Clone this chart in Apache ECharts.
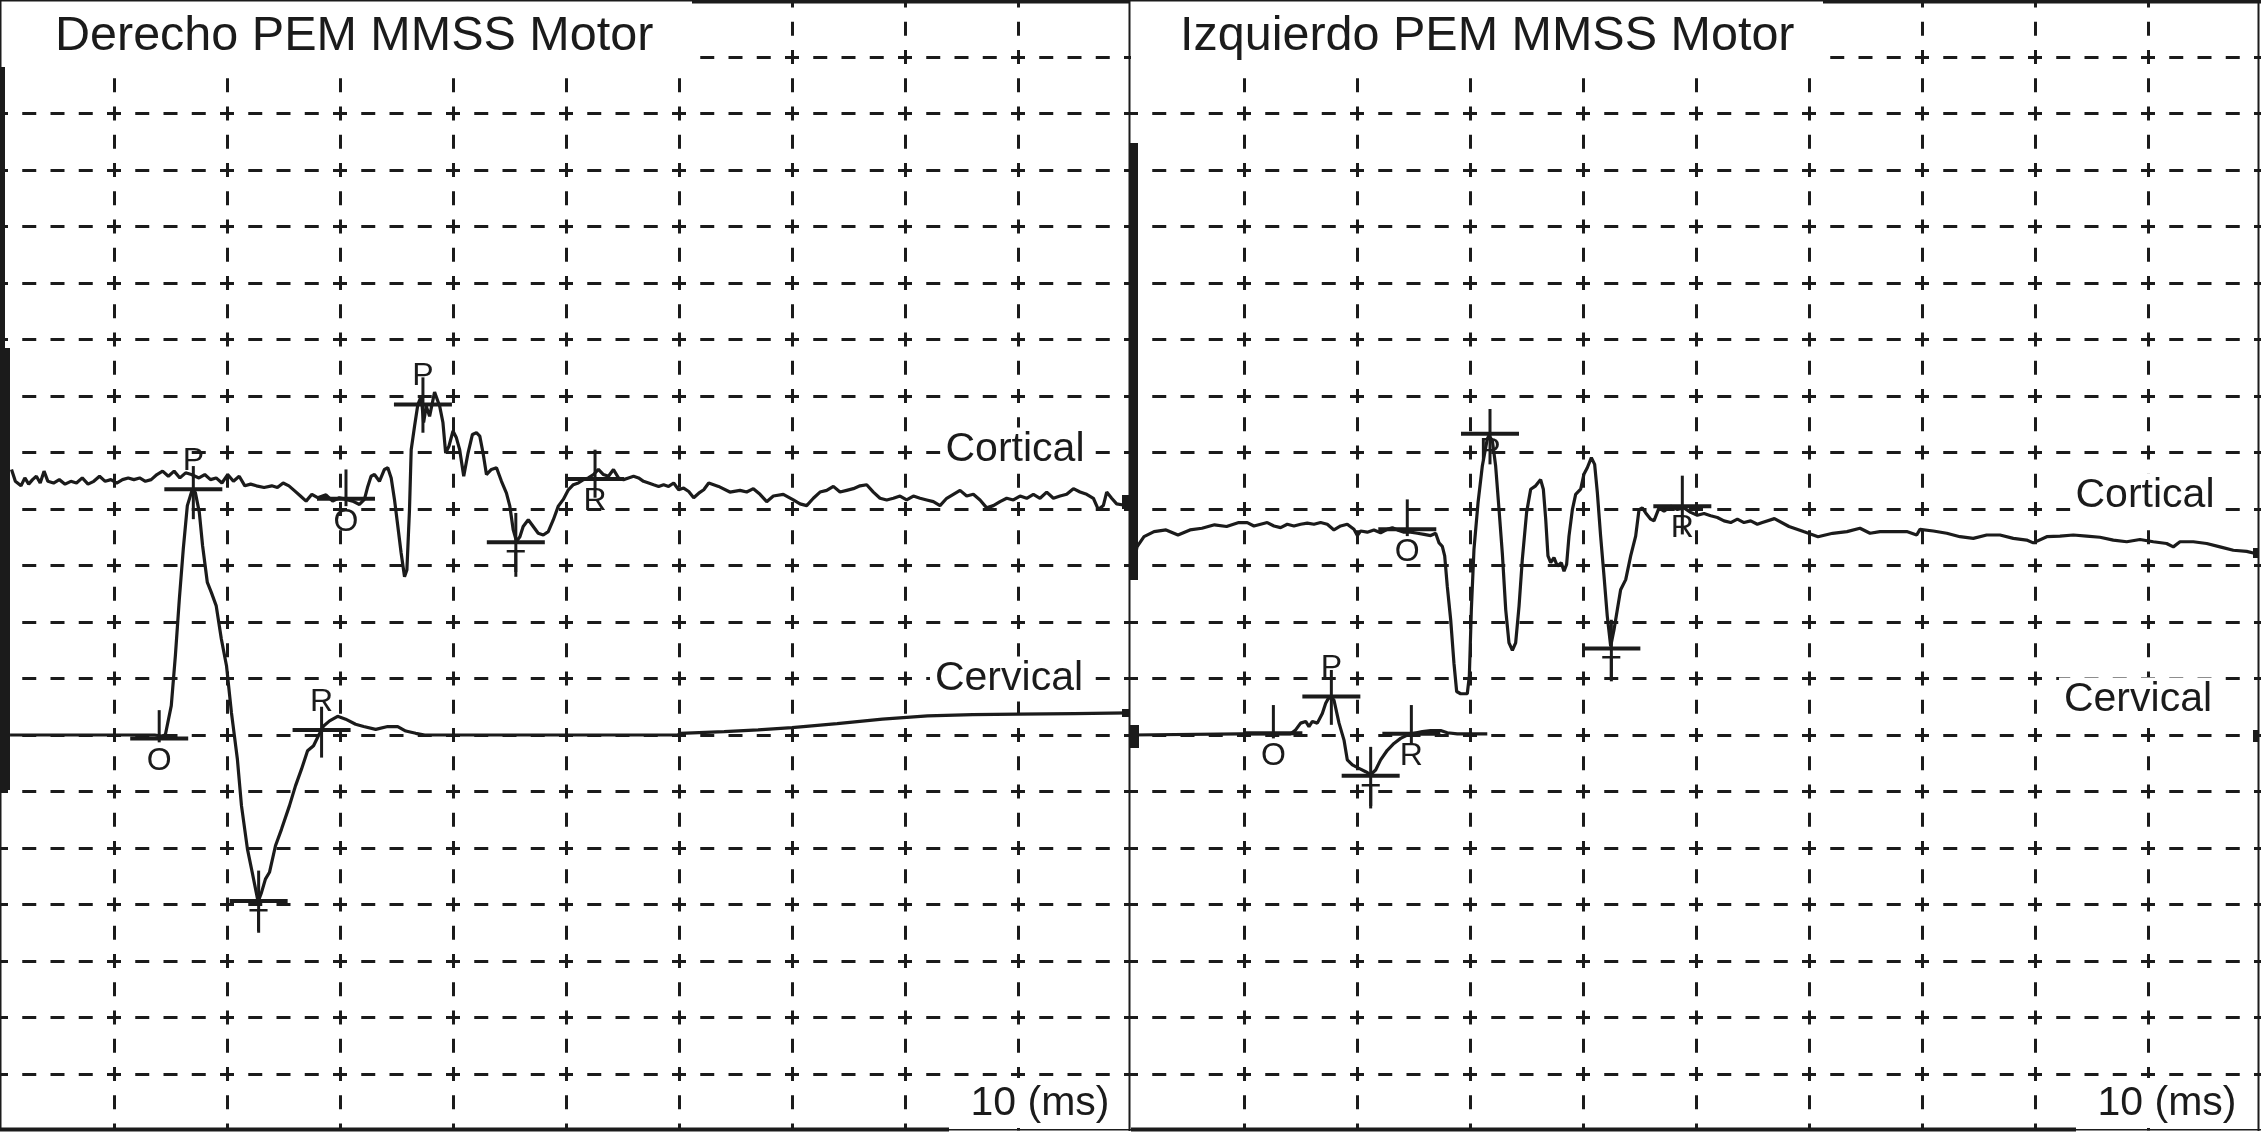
<!DOCTYPE html>
<html><head><meta charset="utf-8">
<script src="https://cdn.jsdelivr.net/npm/echarts@6/dist/echarts.min.js"></script>
<style>html,body{margin:0;padding:0;background:#fff;}#c{width:2261px;height:1136px;}</style>
</head><body><div id="c"></div>
<script>
// ---------------- DATA ----------------
const titleLeft = 'Derecho PEM MMSS Motor';
const titleRight = 'Izquierdo PEM MMSS Motor';
const channelNames = ['Cortical', 'Cervical'];
const scaleLabel = '10 (ms)';
const timeRange = [0, 100, 10];      // ms: min, max, step per division
const ampRange = [0, 20, 1];         // divisions: min, max, step

// Left (Derecho) cortical trace [ms, div]
const leftCortical = [
[0.93,11.70],[1.27,11.49],[1.77,11.41],[2.11,11.55],[2.45,11.44],[2.79,11.52],[3.13,11.58],[3.47,11.46],[3.81,11.67],[4.15,11.49],[4.65,11.46],[5.16,11.52],[5.67,11.44],[6.18,11.49],[6.68,11.46],[7.19,11.55],[7.70,11.44],[8.21,11.49],[8.72,11.58],[9.22,11.49],[9.73,11.52],[10.24,11.46],[10.75,11.52],[11.26,11.55],[11.76,11.52],[12.27,11.55],[12.78,11.49],[13.29,11.52],[13.80,11.61],[14.30,11.67],[14.81,11.58],[15.32,11.67],[15.83,11.55],[16.34,11.64],[16.84,11.61],[17.18,11.58],[17.52,11.55],[18.03,11.61],[18.54,11.52],[19.04,11.55],[19.55,11.46],[20.06,11.61],[20.57,11.49],[21.08,11.58],[21.58,11.41],[22.09,11.44],[22.60,11.41],[23.28,11.38],[23.96,11.41],[24.46,11.38],[24.97,11.46],[25.48,11.41],[25.99,11.32],[26.50,11.23],[27.00,11.14],[27.51,11.26],[28.02,11.20],
[28.17,11.22],[28.76,11.25],[29.35,11.14],[29.94,11.20],[30.53,11.17],[31.12,11.14],[31.72,11.08],[32.16,11.17],[32.46,11.40],[32.75,11.58],[33.05,11.61],[33.49,11.49],[33.93,11.70],[34.23,11.73],[34.53,11.55],[34.82,11.17],[35.12,10.69],[35.41,10.22],[35.71,9.80],[35.92,9.92],[36.15,10.99],[36.30,12.05],[36.60,12.47],[36.89,12.85],[37.19,13.00],[37.40,12.53],[37.63,12.82],[37.93,12.64],[38.37,13.07],[38.82,12.82],[39.11,12.53],[39.35,11.99],[39.64,12.11],[40.00,12.38],[40.30,12.26],[40.59,12.05],[40.95,11.58],[41.33,11.99],[41.72,12.32],[42.07,12.35],[42.37,12.29],[42.66,11.99],[42.96,11.61],[43.40,11.70],[43.85,11.73],[44.29,11.49],[44.73,11.28],[45.03,11.05],[45.33,10.63],[45.62,10.43],[45.92,10.51],[46.21,10.69],[46.66,10.81],[47.10,10.69],[47.54,10.57],[47.99,10.54],[48.43,10.60],[48.88,10.81],[49.32,11.05],[49.76,11.17],[50.21,11.34],[50.65,11.43],[51.09,11.46],[51.54,11.52],[51.98,11.55],[52.43,11.61],[52.87,11.70],[53.31,11.61],[53.76,11.58],[54.20,11.70],[54.64,11.55],[55.09,11.52],[55.53,11.55],[55.98,11.58],[56.42,11.55],[56.86,11.49],[57.31,11.46],[57.75,11.43],[58.20,11.40],[58.64,11.43],[59.08,11.40],[59.53,11.46],[59.97,11.34],[60.41,11.37],[60.86,11.31],[61.30,11.20],[61.75,11.28],[62.19,11.34],[62.63,11.46],[63.50,11.40],[64.50,11.30],
[65.40,11.33],[65.99,11.30],[66.58,11.36],[67.17,11.26],[67.76,11.13],[68.35,11.23],[69.23,11.26],[70.12,11.16],[70.71,11.09],[71.30,11.06],[71.89,11.19],[72.48,11.30],[73.07,11.33],[73.66,11.40],[74.25,11.30],[74.84,11.33],[75.43,11.36],[76.02,11.41],[76.61,11.43],[77.20,11.30],[77.79,11.19],[78.38,11.16],[78.97,11.19],[79.56,11.23],[80.15,11.16],[80.74,11.23],[81.33,11.19],[81.92,11.16],[82.51,11.13],[83.10,11.06],[83.69,11.19],[84.28,11.26],[84.87,11.33],[85.46,11.23],[86.05,11.26],[86.64,11.16],[87.23,11.02],[87.82,11.06],[88.41,11.13],[89.00,11.19],[89.59,11.16],[90.18,11.23],[90.77,11.19],[91.36,11.26],[91.95,11.19],[92.54,11.30],[93.13,11.19],[93.72,11.23],[94.31,11.26],[94.90,11.36],[95.49,11.30],[96.08,11.26],[96.67,11.19],[97.11,10.99],[97.55,11.06],[97.85,11.30],[98.29,11.19],[98.73,11.09],[99.32,11.07],[99.76,11.06]
];

// Left (Derecho) cervical trace
const leftCervical = [
[0.80,7.00],[5.00,7.00],[10.00,7.00],[13.60,7.00],[14.20,6.98],[14.54,7.00],[15.07,7.52],[15.43,8.40],[15.78,9.40],[16.13,10.29],[16.49,11.06],[16.95,11.36],[17.20,11.29],[17.55,10.94],[17.84,10.35],[18.26,9.70],[18.62,9.52],[19.04,9.29],[19.50,8.70],[19.96,8.22],[20.39,7.40],[20.92,6.57],[21.28,5.75],[21.81,4.98],[22.23,4.57],[22.75,4.05],[23.05,4.21],[23.40,4.45],[23.76,4.57],[24.29,5.04],[24.82,5.33],[25.53,5.75],[26.06,6.10],[26.60,6.40],[27.13,6.72],[27.66,6.81],[28.12,7.00],[28.55,7.16],[29.08,7.25],[29.79,7.33],[30.50,7.28],[31.38,7.19],[32.09,7.15],[33.16,7.10],[34.22,7.15],[35.11,7.15],[35.82,7.07],[36.70,7.03],[37.50,7.00],[59.90,7.00],[60.10,7.03],[64.00,7.06],[67.00,7.09],[70.00,7.13],[74.00,7.20],[78.00,7.28],[82.00,7.34],[86.00,7.36],[90.00,7.37],[95.00,7.38],[99.80,7.39]
];

// Right (Izquierdo) cortical trace
const rightCortical = [
[0.31,10.10],[0.53,10.33],[1.15,10.51],[2.04,10.60],[3.10,10.63],[4.16,10.54],[5.22,10.63],[6.28,10.66],[7.39,10.72],[8.46,10.69],[9.54,10.76],
[9.71,10.73],[10.29,10.76],[10.88,10.70],[11.47,10.73],[12.06,10.76],[12.65,10.70],[13.24,10.67],[13.83,10.73],[14.42,10.70],[15.01,10.73],[15.60,10.75],[16.19,10.73],[16.78,10.76],[17.37,10.73],[17.96,10.63],[18.55,10.70],[19.14,10.73],[19.73,10.64],[20.03,10.53],[20.32,10.61],[20.91,10.59],[21.50,10.63],[22.09,10.58],[22.68,10.64],[23.13,10.67],[23.57,10.63],[24.16,10.59],[24.75,10.59],[25.34,10.57],[25.93,10.55],[26.52,10.53],[26.96,10.57],[27.26,10.40],[27.55,10.34],[27.76,10.17],[27.99,9.63],[28.29,9.04],[28.58,8.27],[28.82,7.77],[29.17,7.73],[29.76,7.73],[29.94,8.04],[30.12,9.22],[30.35,10.28],[30.71,11.11],[31.09,11.76],[31.53,12.24],[31.68,12.30],[31.98,12.21],[32.27,11.76],[32.57,10.99],[32.86,10.22],[33.16,9.22],[33.45,8.63],[33.75,8.50],[34.04,8.63],[34.34,9.28],[34.63,10.11],[35.01,10.94],[35.37,11.35],[35.81,11.41],[36.25,11.52],[36.49,11.35],[36.70,10.82],[36.90,10.17],[37.14,10.05],[37.43,10.14],[37.73,9.99],[38.08,10.05],[38.32,9.90],[38.55,10.02],[38.76,10.52],[39.06,10.99],[39.35,11.26],[39.79,11.35],[40.09,11.62],[40.38,11.73],[40.74,11.91],[41.03,11.79],[41.27,11.29],[41.56,10.52],[41.86,9.81],[42.15,9.10],[42.45,8.57],[42.74,8.86],[43.04,9.22],[43.33,9.57],[43.78,9.75],[44.22,10.17],[44.66,10.52],[44.96,10.99],[45.25,11.02],[45.55,10.93],[45.99,10.82],[46.28,10.79],[46.73,11.02],[47.17,10.96],[47.76,11.05],[48.35,10.99],[48.94,11.02],[49.53,10.94],[50.12,10.89],[50.71,10.92],[51.30,10.88],[51.89,10.85],[52.48,10.79],[53.07,10.76],[53.66,10.82],[54.25,10.76],[54.84,10.79],[55.43,10.73],[55.87,10.76],
[56.94,10.83],[58.23,10.69],[59.51,10.60],[60.80,10.51],[62.09,10.57],[63.36,10.60],
[64.51,10.66],[65.40,10.57],[66.28,10.60],[67.46,10.60],[68.65,10.60],[69.53,10.54],[69.82,10.64],[71.00,10.61],[72.19,10.57],[73.36,10.51],[74.54,10.48],[75.72,10.54],[76.90,10.54],[78.08,10.48],[79.26,10.45],[79.85,10.40],[81.04,10.51],[82.21,10.52],[83.39,10.54],[84.57,10.52],[85.75,10.50],[86.93,10.45],[88.12,10.42],[89.29,10.46],[90.47,10.42],[91.65,10.39],[92.24,10.33],[92.83,10.42],[94.01,10.42],[95.19,10.39],[96.37,10.33],[97.55,10.27],[98.73,10.25],[99.32,10.22]
];

// Right (Izquierdo) cervical trace
const rightCervical = [
[0.00,7.00],[9.71,7.02],[14.13,7.02],[14.57,7.09],[15.01,7.21],[15.46,7.24],[15.75,7.15],[16.05,7.24],[16.49,7.21],[16.93,7.38],[17.23,7.56],[17.52,7.67],[17.67,7.68],[17.96,7.62],[18.41,7.21],[18.85,6.91],[19.14,6.56],[19.59,6.47],[20.18,6.41],[20.77,6.35],[21.21,6.30],[21.65,6.38],[22.09,6.56],[22.68,6.73],[23.27,6.85],[23.86,6.94],[24.45,7.00],[25.04,7.03],[25.78,7.06],[26.52,7.08],[27.40,7.08],[27.99,7.04],[28.88,7.02],[30.35,7.02],[31.53,7.02]
];

// Latency markers: [ms, bar level, top of tick, bottom of tick, letter]
const leftMarkers = [
[14.00,6.94,7.44,6.87,'O'],[17.02,11.35,11.76,10.82,'P'],[22.80,4.06,4.60,3.50,'T'],[28.37,7.09,7.50,6.60,'R'],
[30.53,11.18,11.70,11.05,'O'],[37.34,12.85,13.33,12.35,'P'],[45.56,10.41,10.93,9.80,'T'],[52.57,11.53,12.05,11.20,'R']
];
const rightMarkers = [
[12.60,7.03,7.53,6.94,'O'],[17.73,7.68,8.15,7.18,'P'],[21.21,6.28,6.79,5.70,'T'],[24.81,7.02,7.53,6.85,'R'],
[24.45,10.64,11.17,10.52,'O'],[31.77,12.33,12.77,11.79,'P'],[42.51,8.53,9.04,7.95,'T'],[48.79,11.05,11.59,10.55,'R']
];

// ---------------- STYLE ----------------
const INK = '#1b1b1b';
const FONT = '"Liberation Sans", Arial, Helvetica, sans-serif';
const leftLabelSide = ['below','above','below','above','below','above','below','below'];
const rightLabelSide = ['below','above','below','below','below','below','below','below'];
const belowOffset = {O: 23, P: 17, T: 21, R: 22};
const aboveOffset = -28;
const BAR_HALF = 29;

function markerRenderer(markers, sides) {
  return function (params, api) {
    const m = markers[params.dataIndex];
    const c = api.coord([m[0], m[1]]);
    const t = api.coord([m[0], m[2]]);
    const b = api.coord([m[0], m[3]]);
    const off = sides[params.dataIndex] === 'above' ? aboveOffset : belowOffset[m[4]];
    return {
      type: 'group',
      children: [
        {type: 'line', shape: {x1: c[0] - BAR_HALF, y1: c[1], x2: c[0] + BAR_HALF, y2: c[1]}, style: {stroke: INK, lineWidth: 4}},
        {type: 'line', shape: {x1: t[0], y1: t[1], x2: b[0], y2: b[1]}, style: {stroke: INK, lineWidth: 3}},
        {type: 'text', style: {text: m[4], x: c[0], y: c[1] + off, fill: INK, font: '32px ' + FONT, align: 'center', verticalAlign: 'middle'}}
      ]
    };
  };
}

const gridLine = {show: true, showMinLine: false, showMaxLine: false,
  lineStyle: {color: INK, width: 3, type: [14, 14.25], dashOffset: 7}};

function xAx(i) {
  return {type: 'value', gridIndex: i, min: timeRange[0], max: timeRange[1], interval: timeRange[2],
    axisLine: {show: false}, axisTick: {show: false}, axisLabel: {show: false}, splitLine: gridLine};
}
function yAx(i) {
  return {type: 'value', gridIndex: i, min: ampRange[0], max: ampRange[1], interval: ampRange[2],
    axisLine: {show: false}, axisTick: {show: false}, axisLabel: {show: false}, splitLine: gridLine};
}
function trace(data, i) {
  return {type: 'line', xAxisIndex: i, yAxisIndex: i, data: data, symbol: 'none', smooth: false,
    sampling: null, lineStyle: {color: INK, width: 3.2}, z: 5, silent: true};
}
function markers(list, sides, i) {
  return {type: 'custom', xAxisIndex: i, yAxisIndex: i, data: list.map(m => [m[0], m[1], m[2], m[3]]),
    encode: {x: 0, y: 1}, renderItem: markerRenderer(list, sides), z: 6, silent: true};
}

function rect(x, y, w, h, fill) {
  return {type: 'rect', shape: {x: x, y: y, width: w, height: h}, style: {fill: fill || INK}, z: 100, silent: true};
}
function txt(s, x, y, size, align, bg) {
  const st = {text: s, x: x, y: y, fill: INK, font: size + 'px ' + FONT, align: align || 'center', verticalAlign: 'middle'};
  if (bg) { st.backgroundColor = '#fff'; st.padding = [2, 5]; }
  return {type: 'text', style: st, z: 101, silent: true};
}

const graphics = [
  // title boxes
  rect(0, 0, 692, 67, '#fff'), rect(1131, 0, 692, 67, '#fff'),
  txt(titleLeft, 55, 37, 48.5, 'left'),
  txt(titleRight, 1180, 37, 48.5, 'left'),
  // scale boxes
  rect(949, 1078, 179, 50, '#fff'), rect(2076, 1078, 181, 50, '#fff'),
  txt(scaleLabel, 1040, 1104, 41), txt(scaleLabel, 2167, 1104, 41),
  // channel labels
  txt(channelNames[0], 1015, 450, 41, 'center', true),
  txt(channelNames[1], 1009, 679, 41, 'center', true),
  txt(channelNames[0], 2145, 496, 41, 'center', true),
  txt(channelNames[1], 2138, 700, 41, 'center', true),
  // frame
  rect(0, 0, 2261, 1.5), rect(692, 0, 437, 3.5), rect(1823, 0, 438, 3.5),
  rect(0, 0, 1.5, 1131), rect(0, 67, 5, 281), rect(0, 348, 10, 442),
  rect(1128.5, 0, 2, 1131), rect(1130, 143, 8, 437), rect(1130, 725, 9, 23),
  rect(1122, 495, 14, 14), rect(1122, 709, 8, 8),
  rect(2257.5, 0, 2, 1131), rect(2253, 548, 6, 10), rect(2253, 730, 6, 12),
  rect(0, 1129, 2261, 1.5), rect(0, 1127.5, 949, 4), rect(1131, 1127.5, 945, 4)
];

const chart = echarts.init(document.getElementById('c'), null, {renderer: 'canvas', width: 2261, height: 1136});
chart.setOption({
  animation: false,
  backgroundColor: '#fff',
  grid: [
    {left: 1, top: 0.5, width: 1130, height: 1130, containLabel: false},
    {left: 1131, top: 0.5, width: 1130, height: 1130, containLabel: false}
  ],
  xAxis: [xAx(0), xAx(1)],
  yAxis: [yAx(0), yAx(1)],
  series: [
    trace(leftCortical, 0), trace(leftCervical, 0),
    trace(rightCortical, 1), trace(rightCervical, 1),
    markers(leftMarkers, leftLabelSide, 0), markers(rightMarkers, rightLabelSide, 1)
  ],
  graphic: {elements: graphics}
});
</script></body></html>
